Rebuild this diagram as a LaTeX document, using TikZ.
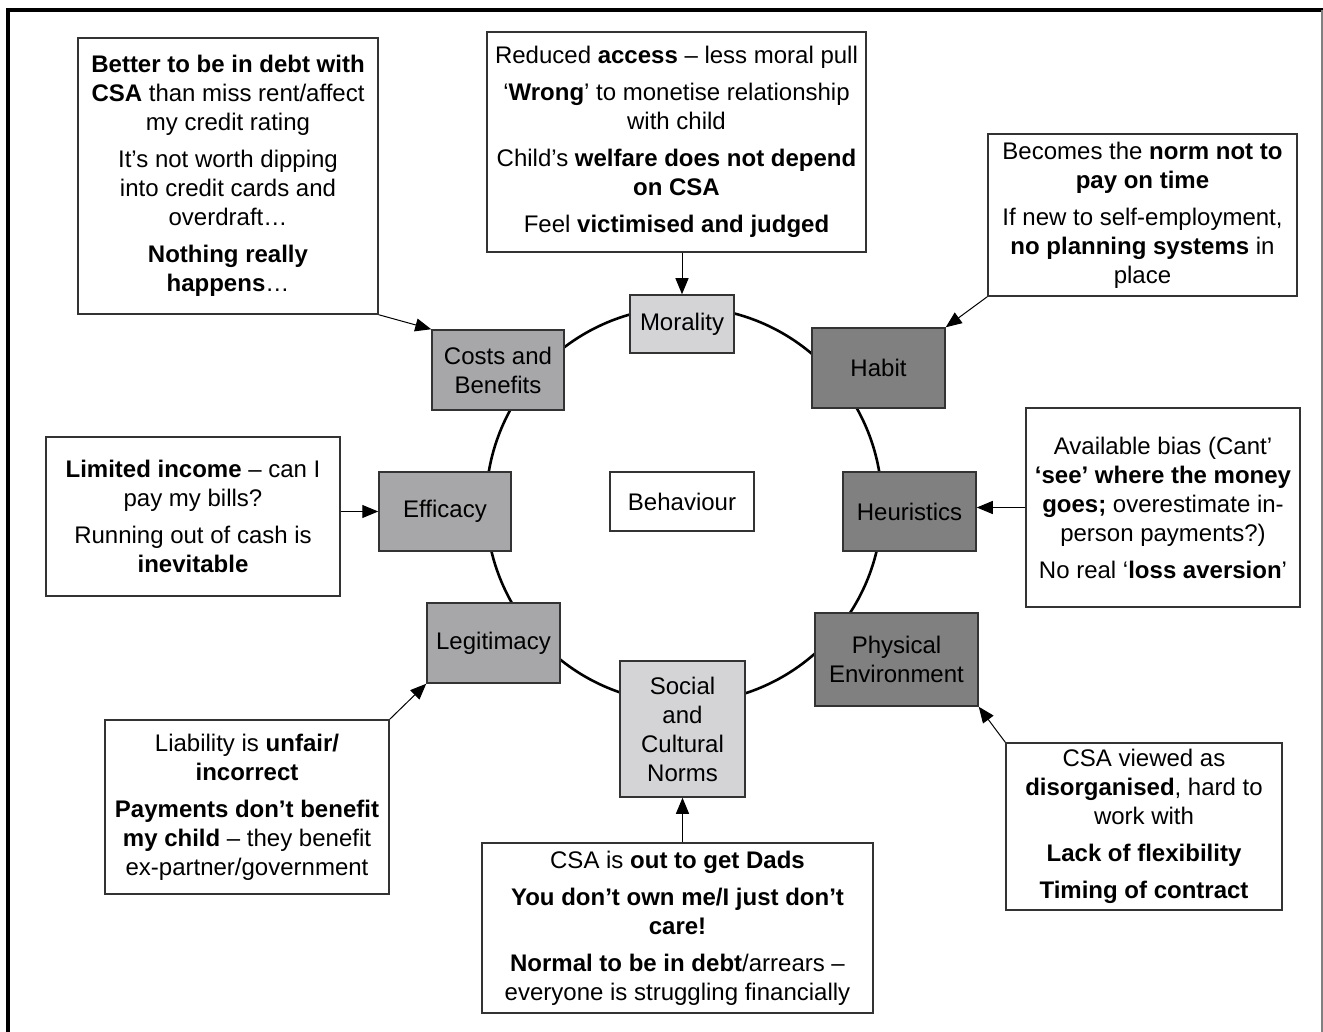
\documentclass[tikz,border=0pt]{standalone}
\usepackage{fontspec}
\setmainfont{Liberation Sans}
\usetikzlibrary{arrows.meta}
\definecolor{lightf}{HTML}{D4D4D6}
\definecolor{midf}{HTML}{A7A7A9}
\definecolor{darkf}{HTML}{808080}
\definecolor{edge}{HTML}{333333}
\tikzset{
  txtbox/.style={draw=edge, line width=0.75pt, fill=white, align=center, inner sep=0pt,
    font=\fontsize{12}{14.5}\selectfont},
  factor/.style={txtbox},
  arr/.style={-{Triangle[length=8pt,width=6.5pt]}, line width=0.5pt, black},
}
\begin{document}
\begin{tikzpicture}[x=0.5pt,y=-0.5pt]
\useasboundingbox (0,0) rectangle (1323,1032);
% outer frame
\draw[line width=1.6pt] (8,1032) -- (8,10) -- (1323,10);
\draw[gray, line width=0.6pt] (1322,10) -- (1322,1032);
% circle
\draw[line width=1.3pt] (684,505) circle [radius=99pt];

% factor boxes
\node[factor, fill=lightf, minimum width=52pt, minimum height=29pt] (morality) at (682,324) {Morality};
\node[factor, fill=midf, minimum width=66pt, minimum height=40pt] (costs) at (498,370) {Costs and\\Benefits};
\node[factor, fill=darkf, minimum width=66.5pt, minimum height=40pt] (habit) at (878.5,368) {Habit};
\node[factor, fill=darkf, minimum width=66.5pt, minimum height=39.5pt] (heuristics) at (909.5,511.5) {Heuristics};
\node[factor, fill=midf, minimum width=66pt, minimum height=39.5pt] (efficacy) at (445,511.5) {Efficacy};
\node[factor, fill=white, minimum width=72pt, minimum height=29.5pt] (behaviour) at (682,501.5) {Behaviour};
\node[factor, fill=midf, minimum width=66.5pt, minimum height=40pt] (legitimacy) at (493.5,643) {Legitimacy};
\node[factor, fill=lightf, minimum width=62.5pt, minimum height=68pt] (social) at (682.5,729) {Social\\and\\Cultural\\Norms};
\node[factor, fill=darkf, minimum width=81.5pt, minimum height=46.5pt] (physical) at (896.5,659.5) {Physical\\Environment};

% text boxes
\node[txtbox, minimum width=150pt, minimum height=138pt] (tl) at (228,176)
 {\textbf{Better to be in debt with}\\ \textbf{CSA} than miss rent/affect\\ my credit rating\\[4pt]
  It’s not worth dipping\\ into credit cards and\\ overdraft…\\[4pt]
  \textbf{Nothing really}\\ \textbf{happens}…};
\node[txtbox, minimum width=189.5pt, minimum height=110pt] (mortxt) at (676.5,142)
 {Reduced \textbf{access} – less moral pull\\[4pt]
  ‘\textbf{Wrong}’ to monetise relationship\\ with child\\[4pt]
  Child’s \textbf{welfare does not depend}\\ \textbf{on CSA}\\[4pt]
  Feel \textbf{victimised and judged}};
\node[txtbox, minimum width=154.5pt, minimum height=81pt] (habtxt) at (1142.5,215)
 {Becomes the \textbf{norm not to}\\ \textbf{pay on time}\\[4pt]
  If new to self-employment,\\ \textbf{no planning systems} in\\ place};
\node[txtbox, minimum width=137pt, minimum height=99.5pt] (heurtxt) at (1163,507.5)
 {Available bias (Cant’\\ \textbf{‘see’ where the money}\\ \textbf{goes;} overestimate in-\\ person payments?)\\[4pt]
  No real ‘\textbf{loss aversion}’};
\node[txtbox, minimum width=147pt, minimum height=79.5pt] (efftxt) at (193,516.5)
 {\textbf{Limited income} – can I\\ pay my bills?\\[4pt]
  Running out of cash is\\ \textbf{inevitable}};
\node[txtbox, minimum width=142pt, minimum height=87pt] (legtxt) at (247,807)
 {Liability is \textbf{unfair/}\\ \textbf{incorrect}\\[4pt]
  \textbf{Payments don’t benefit}\\ \textbf{my child} – they benefit\\ ex-partner/government};
\node[txtbox, minimum width=195.5pt, minimum height=85pt] (soctxt) at (677.5,928)
 {CSA is \textbf{out to get Dads}\\[4pt]
  \textbf{You don’t own me/I just don’t}\\ \textbf{care!}\\[4pt]
  \textbf{Normal to be in debt}/arrears –\\ everyone is struggling financially};
\node[txtbox, minimum width=138pt, minimum height=83.5pt] (phystxt) at (1144,826.5)
 {CSA viewed as\\ \textbf{disorganised}, hard to\\ work with\\[4pt]
  \textbf{Lack of flexibility}\\[4pt]
  \textbf{Timing of contract}};

% connectors
\draw[arr] (tl.south east) -- (costs.north west);
\draw[arr] (morality.north |- mortxt.south) -- (morality.north);
\draw[arr] (habtxt.south west) -- (habit.north east);
\draw[arr] (heurtxt.west) -- (heurtxt.west -| heuristics.east);
\draw[arr] (efftxt.east |- efficacy.west) -- (efficacy.west);
\draw[arr] (legtxt.north east) -- (legitimacy.south west);
\draw[arr] (soctxt.north -| social.south) -- (social.south);
\draw[arr] (phystxt.north west) -- (physical.south east);
\end{tikzpicture}
\end{document}
